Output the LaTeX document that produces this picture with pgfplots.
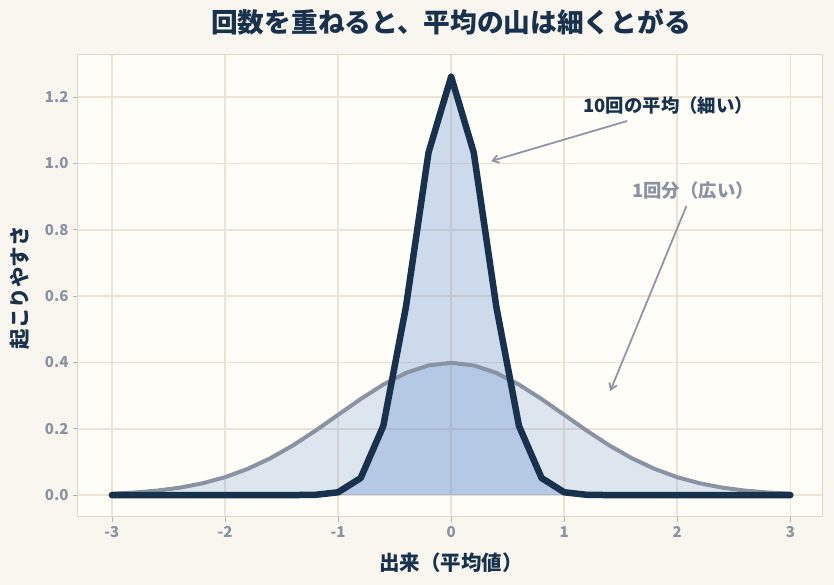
\documentclass[border=0pt]{standalone}
\usepackage{pgfplots}
\pgfplotsset{compat=1.18}
\usepackage{pgfplotstable}
\usetikzlibrary{arrows.meta}
\usepackage{fontspec}
\setmainfont{Noto Sans CJK JP}
\definecolor{bgout}{HTML}{F9F5EF}
\definecolor{bgin}{HTML}{FFFDF8}
\definecolor{gridc}{HTML}{EEE3D2}
\definecolor{framec}{HTML}{E0D6C4}
\definecolor{navy}{HTML}{18324D}
\definecolor{grayline}{HTML}{8A93A3}
\definecolor{arrowc}{HTML}{8E96A6}
\definecolor{blue1}{RGB}{85,134,207}

\pgfplotstableread{
x y
-3.0 0.0044
-2.8 0.0079
-2.6 0.0136
-2.4 0.0224
-2.2 0.0355
-2.0 0.0540
-1.8 0.0790
-1.6 0.1109
-1.4 0.1497
-1.2 0.1942
-1.0 0.2420
-0.8 0.2897
-0.6 0.3332
-0.4 0.3683
-0.2 0.3910
0.0 0.3989
0.2 0.3910
0.4 0.3683
0.6 0.3332
0.8 0.2897
1.0 0.2420
1.2 0.1942
1.4 0.1497
1.6 0.1109
1.8 0.0790
2.0 0.0540
2.2 0.0355
2.4 0.0224
2.6 0.0136
2.8 0.0079
3.0 0.0044
}\wide

\pgfplotstableread{
x y
-3.0 0.0
-2.8 0.0
-2.6 0.0
-2.4 0.0
-2.2 0.0
-2.0 0.0
-1.8 0.0
-1.6 0.0
-1.4 0.0001
-1.2 0.0009
-1.0 0.0085
-0.8 0.0514
-0.6 0.2085
-0.4 0.5669
-0.2 1.0329
0.0 1.2616
0.2 1.0329
0.4 0.5669
0.6 0.2085
0.8 0.0514
1.0 0.0085
1.2 0.0009
1.4 0.0001
1.6 0.0
1.8 0.0
2.0 0.0
2.2 0.0
2.4 0.0
2.6 0.0
2.8 0.0
3.0 0.0
}\narrow

\begin{document}
\begin{tikzpicture}
\fill[bgout] (-78pt,-68pt) rectangle (756pt,517pt);
\begin{axis}[
  at={(0pt,0pt)}, anchor=south west,
  scale only axis, width=744pt, height=462pt,
  xmin=-3.30, xmax=3.28, ymin=-0.066, ymax=1.327,
  axis background/.style={fill=bgin},
  axis line style={draw=framec, line width=1pt},
  grid=major, major grid style={draw=gridc, line width=1.6pt},
  xtick={-3,-2,-1,0,1,2,3},
  ytick={0,0.2,0.4,0.6,0.8,1.0,1.2},
  tick align=outside, major tick length=5pt,
  tick style={draw=grayline!70, line width=0.8pt},
  xtick pos=bottom, ytick pos=left,
  /pgf/number format/assume math mode=true,
  yticklabel style={/pgf/number format/fixed, /pgf/number format/fixed zerofill, /pgf/number format/precision=1},
  ticklabel style={font=\bfseries\fontsize{15}{15}\selectfont, text=grayline},
  xticklabel style={yshift=-1pt},
  yticklabel style={xshift=-1pt},
  clip=false,
]
\addplot[draw=none, fill=blue1, fill opacity=0.2] table {\wide} \closedcycle;
\addplot[draw=none, fill=blue1, fill opacity=0.29] table {\narrow} \closedcycle;
\addplot[grayline, line width=4pt, line join=round, line cap=round] table {\wide};
\addplot[navy, line width=6.5pt, line join=round, line cap=round] table {\narrow};
\draw[-{Straight Barb[length=6pt,width=8pt]}, arrowc, line width=1.8pt] (axis cs:1.557,1.128) -- (axis cs:0.354,1.007);
\draw[-{Straight Barb[length=6pt,width=8pt]}, arrowc, line width=1.8pt] (axis cs:2.08,0.871) -- (axis cs:1.407,0.314);
\node[text=navy, font=\bfseries\fontsize{18.4}{18.4}\selectfont] at (axis cs:1.92,1.176) {10回の平均（細い）};
\node[text=grayline, font=\bfseries\fontsize{18.4}{18.4}\selectfont] at (axis cs:2.14,0.919) {1回分（広い）};
\end{axis}
\node[text=navy, font=\bfseries\fontsize{26.7}{26.7}\selectfont] at (373pt,495pt) {回数を重ねると、平均の山は細くとがる};
\node[text=navy, font=\bfseries\fontsize{20.5}{20.5}\selectfont] at (373pt,-46pt) {出来（平均値）};
\node[text=navy, font=\bfseries\fontsize{20.5}{20.5}\selectfont, rotate=90] at (-58pt,229pt) {起こりやすさ};
\end{tikzpicture}
\end{document}
